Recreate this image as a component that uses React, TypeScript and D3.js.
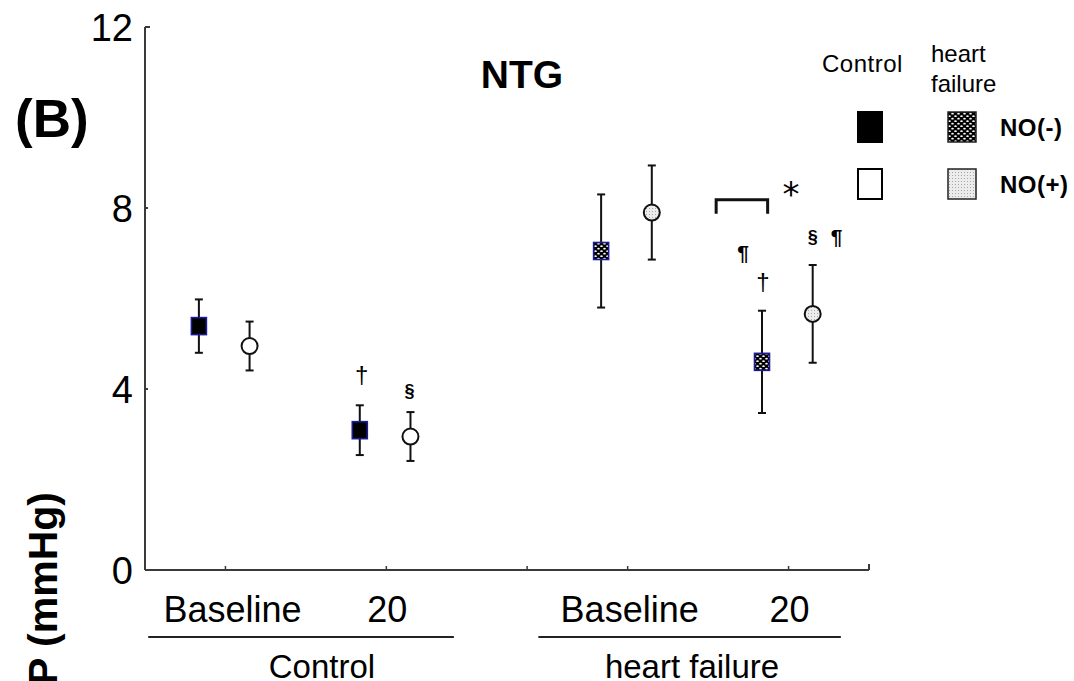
import React from "react";
import * as d3 from "d3";

// Categories along the x axis
const groups = ["Control", "heart failure"];
const times = ["Baseline", "20"];
// x position (axis units) of each group/time slot: [group][time]
const slotX = [
  [1, 3],
  [6, 8],
];
// extra axis tick separating the two groups
const separatorTick = 4.75;
// group caption position and underline extent (axis units)
const groupLabelX = [2.2, 6.8];
const groupLineSpan = [
  [0.04, 3.84],
  [4.89, 8.65],
];
const conditions = ["NO(-)", "NO(+)"];

// Means and SE, indexed by time (Baseline, 20)
const controlNoMinusMean = [5.39, 3.09];
const controlNoMinusSE = [0.59, 0.55];
const controlNoPlusMean = [4.95, 2.95];
const controlNoPlusSE = [0.54, 0.54];
const hfNoMinusMean = [7.05, 4.6];
const hfNoMinusSE = [1.25, 1.13];
const hfNoPlusMean = [7.9, 5.66];
const hfNoPlusSE = [1.04, 1.08];

const yTicks = [0, 4, 8, 12];

// Significance marks placed above error bars
const sigMarks = [
  { group: 0, time: 1, cond: 0, text: "†", dx: 2, dy: -31, size: 24, bold: false },
  { group: 0, time: 1, cond: 1, text: "§", dx: -1, dy: -21, size: 18, bold: true },
  { group: 1, time: 1, cond: 0, text: "†", dx: 1, dy: -29, size: 24, bold: false },
  { group: 1, time: 1, cond: 0, text: "¶", dx: -19, dy: -58, size: 21, bold: true },
  { group: 1, time: 1, cond: 1, text: "§", dx: 0, dy: -28, size: 18, bold: true },
  { group: 1, time: 1, cond: 1, text: "¶", dx: 24, dy: -28, size: 21, bold: true },
];
// Bracket between heart failure 20-min groups (axis units)
const bracketX0 = 7.1;
const bracketX1 = 7.74;
const bracketY = 8.18;
const starX = 8.03;
const starY = 8.5;

const W = 1074;
const H = 681;
const FONT = "'Liberation Sans', Arial, sans-serif";

export default function App() {
  const x = d3.scaleLinear().domain([0, 9]).range([145, 869]);
  const y = d3.scaleLinear().domain([0, 12]).range([570, 27]);
  const condOffset = [-0.33, 0.3];

  const means = [
    [controlNoMinusMean, controlNoPlusMean],
    [hfNoMinusMean, hfNoPlusMean],
  ];
  const ses = [
    [controlNoMinusSE, controlNoPlusSE],
    [hfNoMinusSE, hfNoPlusSE],
  ];

  const points: {
    g: number; t: number; c: number; cx: number; m: number; se: number;
  }[] = [];
  groups.forEach((_, g) =>
    times.forEach((__, t) =>
      conditions.forEach((___, c) =>
        points.push({
          g, t, c,
          cx: x(slotX[g][t] + condOffset[c]),
          m: means[g][c][t],
          se: ses[g][c][t],
        })
      )
    )
  );

  const fillFor = (g: number, c: number) =>
    g === 0 ? (c === 0 ? "#000" : "#fff") : c === 0 ? "url(#dense)" : "url(#light)";

  const axisColor = "#3a3a3a";
  const xTickVals = [slotX[0][0], slotX[0][1], separatorTick, slotX[1][0], slotX[1][1]];

  return (
    <svg
      width={W}
      height={H}
      style={{ position: "absolute", left: 0, top: 0, background: "#fff" }}
      fontFamily={FONT}
    >
      <defs>
        <pattern id="dense" width="6" height="5" patternUnits="userSpaceOnUse">
          <rect width="6" height="5" fill="#000" />
          <ellipse cx="1.5" cy="1.2" rx="1.3" ry="0.9" fill="#fff" />
          <ellipse cx="4.5" cy="3.7" rx="1.3" ry="0.9" fill="#fff" />
        </pattern>
        <pattern id="light" width="3" height="3" patternUnits="userSpaceOnUse">
          <rect width="3" height="3" fill="#ececec" />
          <rect x="1" y="1" width="1" height="1" fill="#a8a8a8" />
        </pattern>
      </defs>

      {/* panel letter and title */}
      <text x={15} y={137} fontSize={53} fontWeight="bold" fill="#000">(B)</text>
      <text x={522} y={88} fontSize={39} fontWeight="bold" textAnchor="middle" fill="#000">NTG</text>

      {/* y axis */}
      <line x1={x(0)} x2={x(0)} y1={y(12)} y2={y(0)} stroke={axisColor} strokeWidth={2} />
      {yTicks.map((v) => (
        <g key={v}>
          {v > 0 && (
            <line x1={x(0)} x2={x(0) + (v === 12 ? 5 : 3)} y1={y(v)} y2={y(v)} stroke={axisColor} strokeWidth={2} />
          )}
          <text x={133} y={y(v)} dy="0.36em" fontSize={38} textAnchor="end" fill="#000">
            {v}
          </text>
        </g>
      ))}
      <text
        transform={`translate(57,492) rotate(-90)`}
        fontSize={41}
        fontWeight="bold"
        textAnchor="end"
        fill="#000"
      >
        P (mmHg)
      </text>

      {/* x axis */}
      <line x1={x(0)} x2={x(9)} y1={y(0)} y2={y(0)} stroke={axisColor} strokeWidth={2} />
      <line x1={x(9)} x2={x(9)} y1={y(0)} y2={y(0) - 6} stroke={axisColor} strokeWidth={2} />
      {xTickVals.map((v) => (
        <line key={v} x1={x(v)} x2={x(v)} y1={y(0)} y2={y(0) - 4} stroke={axisColor} strokeWidth={1.5} />
      ))}
      {groups.map((gName, g) => (
        <g key={gName}>
          {times.map((tName, t) => (
            <text key={tName} x={x(slotX[g][t]) + (t === 0 ? 7 - g * 5 : 1)} y={622} fontSize={36} textAnchor="middle" fill="#000">
              {tName}
            </text>
          ))}
          <line
            x1={x(groupLineSpan[g][0])}
            x2={x(groupLineSpan[g][1])}
            y1={637}
            y2={637}
            stroke="#222"
            strokeWidth={2}
          />
          <text x={x(groupLabelX[g])} y={678} fontSize={33} textAnchor="middle" fill="#000">
            {gName}
          </text>
        </g>
      ))}

      {/* error bars */}
      {points.map((p, i) => (
        <g key={"e" + i} stroke="#111" strokeWidth={2}>
          <line x1={p.cx} x2={p.cx} y1={y(p.m + p.se)} y2={y(p.m - p.se)} />
          <line x1={p.cx - 4} x2={p.cx + 4} y1={y(p.m + p.se)} y2={y(p.m + p.se)} />
          <line x1={p.cx - 4} x2={p.cx + 4} y1={y(p.m - p.se)} y2={y(p.m - p.se)} />
        </g>
      ))}

      {/* markers */}
      {points.map((p, i) =>
        p.c === 0 ? (
          <rect
            key={"m" + i}
            x={p.cx - 7.5}
            y={y(p.m) - 8.5}
            width={15}
            height={17}
            fill={fillFor(p.g, p.c)}
            stroke="#1c1c9a"
            strokeWidth={1.6}
          />
        ) : (
          <circle
            key={"m" + i}
            cx={p.cx}
            cy={y(p.m)}
            r={8}
            fill={fillFor(p.g, p.c)}
            stroke="#111"
            strokeWidth={2}
          />
        )
      )}

      {/* significance marks */}
      {sigMarks.map((s, i) => {
        const p = points.find((q) => q.g === s.group && q.t === s.time && q.c === s.cond)!;
        return (
          <text
            key={"s" + i}
            x={p.cx + s.dx}
            y={y(p.m + p.se) + s.dy}
            dy="0.35em"
            fontSize={s.size}
            fontWeight={s.bold ? "bold" : "normal"}
            textAnchor="middle"
            fill="#000"
          >
            {s.text}
          </text>
        );
      })}
      <path
        d={`M${x(bracketX0)},${y(bracketY) + 14}V${y(bracketY)}H${x(bracketX1)}V${y(bracketY) + 14}`}
        fill="none"
        stroke="#111"
        strokeWidth={3}
      />
      <text x={x(starX)} y={y(starY)} dy="0.62em" fontSize={34} textAnchor="middle" fill="#000" fontFamily="'DejaVu Sans', sans-serif">
        *
      </text>

      {/* legend */}
      <text x={822} y={72} fontSize={24} fill="#000" letterSpacing={0.5}>Control</text>
      <text x={931} y={62} fontSize={24} fill="#000">heart</text>
      <text x={931} y={92} fontSize={24} fill="#000">failure</text>
      {conditions.map((cName, c) => {
        const cy = c === 0 ? 127 : 184;
        return (
          <g key={cName}>
            <rect x={858} y={cy - 15} width={24} height={30} fill={fillFor(0, c)} stroke="#000" strokeWidth={2} />
            <rect x={948} y={cy - 15} width={28} height={30} fill={fillFor(1, c)} stroke="#222" strokeWidth={1.5} />
            <text x={1000} y={cy} dy="0.36em" fontSize={24} fontWeight="bold" fill="#000" letterSpacing={0.5}>
              {cName}
            </text>
          </g>
        );
      })}
    </svg>
  );
}
